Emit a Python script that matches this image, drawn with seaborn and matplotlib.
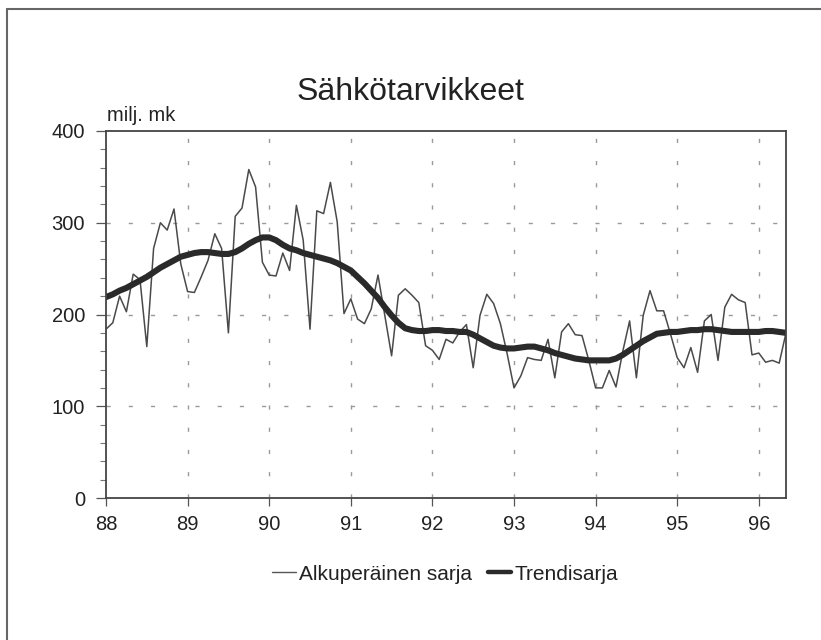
import numpy as np
import pandas as pd
import matplotlib
matplotlib.use("Agg")
import matplotlib.pyplot as plt
import seaborn as sns
from matplotlib.lines import Line2D
from matplotlib.ticker import MultipleLocator

# Data: monthly values Jan 1988 - May 1996 (milj. mk)
START_YEAR = 88
original_88 = [184, 191, 220, 203, 244, 238, 165, 272, 300, 292, 315, 255]
original_89 = [225, 224, 241, 259, 288, 272, 180, 307, 316, 358, 339, 257]
original_90 = [243, 242, 267, 248, 319, 281, 184, 313, 310, 344, 301, 201]
original_91 = [217, 195, 190, 206, 243, 199, 155, 221, 228, 221, 213, 166]
original_92 = [161, 151, 173, 169, 181, 189, 142, 199, 222, 212, 190, 157]
original_93 = [120, 133, 153, 151, 150, 173, 131, 181, 190, 178, 177, 150]
original_94 = [120, 120, 139, 121, 160, 193, 131, 199, 226, 204, 204, 179]
original_95 = [153, 142, 164, 137, 193, 200, 150, 208, 222, 216, 213, 156]
original_96 = [158, 148, 150, 147, 180]

trend_88 = [219, 222, 226, 229, 233, 237, 241, 246, 251, 255, 259, 263]
trend_89 = [265, 267, 268, 268, 267, 266, 266, 268, 272, 277, 281, 284]
trend_90 = [284, 281, 276, 272, 270, 267, 265, 263, 261, 259, 256, 252]
trend_91 = [248, 241, 234, 226, 218, 208, 199, 191, 185, 183, 182, 182]
trend_92 = [183, 183, 182, 182, 181, 181, 178, 174, 170, 166, 164, 163]
trend_93 = [163, 164, 165, 165, 163, 161, 158, 156, 154, 152, 151, 150]
trend_94 = [150, 150, 150, 152, 156, 161, 166, 171, 175, 179, 180, 181]
trend_95 = [181, 182, 183, 183, 184, 184, 183, 182, 181, 181, 181, 181]
trend_96 = [181, 182, 182, 181, 180]

original = (original_88 + original_89 + original_90 + original_91 + original_92
            + original_93 + original_94 + original_95 + original_96)
trend = (trend_88 + trend_89 + trend_90 + trend_91 + trend_92
         + trend_93 + trend_94 + trend_95 + trend_96)

TITLE = "Sähkötarvikkeet"
UNIT = "milj. mk"
LABEL_ORIG = "Alkuperäinen sarja"
LABEL_TREND = "Trendisarja"
year_ticks = list(range(88, 97))
y_ticks = [0, 100, 200, 300, 400]

time = START_YEAR + np.arange(len(original)) / 12.0
df = pd.DataFrame({"time": time, "original": original, "trend": trend})

sns.set_style("ticks")
plt.rcParams["font.family"] = ["Liberation Sans", "DejaVu Sans"]

fig = plt.figure(figsize=(8.21, 6.4), dpi=100)
ax = fig.add_axes([106 / 821, 1 - 498 / 640, 680 / 821, 367 / 640])

sns.lineplot(data=df, x="time", y="original", ax=ax, color="#4a4a4a", linewidth=1.1)
sns.lineplot(data=df, x="time", y="trend", ax=ax, color="#2a2a2a", linewidth=4.4)

ax.set_xlim(START_YEAR, time[-1])
ax.set_ylim(0, 400)
ax.set_xticks(year_ticks)
ax.set_xticklabels([str(y) for y in year_ticks])
ax.set_yticks(y_ticks)
ax.yaxis.set_minor_locator(MultipleLocator(20))
ax.set_xlabel("")
ax.set_ylabel("")

for side in ["left", "right", "top", "bottom"]:
    ax.spines[side].set_visible(True)
    ax.spines[side].set_color("#444444")
    ax.spines[side].set_linewidth(1.3)

ax.tick_params(axis="both", which="major", labelsize=14.5, colors="#555555",
               labelcolor="#222222", width=0.9, direction="out")
ax.tick_params(axis="y", which="major", length=7, pad=8)
ax.tick_params(axis="y", which="minor", length=4, width=0.8, colors="#777777")
ax.tick_params(axis="x", which="major", length=6, pad=6)

# dashed grid lines (skip the ones on the spines)
for yv in y_ticks[1:-1]:
    ax.axhline(yv, color="#9a9a9a", linewidth=1.0, dashes=(3, 13), zorder=0)
for xv in year_ticks[1:]:
    ax.axvline(xv, color="#9a9a9a", linewidth=1.0, dashes=(3, 13), zorder=0)

fig.text(410 / 821, 1 - 100 / 640, TITLE, fontsize=23, ha="center", va="baseline", color="#222222")
fig.text(107 / 821, 1 - 121 / 640, UNIT, fontsize=14.5, ha="left", va="baseline", color="#222222")

handles = [Line2D([0], [0], color="#555555", linewidth=1.0),
           Line2D([0], [0], color="#2a2a2a", linewidth=3.2)]
fig.legend(handles, [LABEL_ORIG, LABEL_TREND], loc="center", bbox_to_anchor=(445 / 821, 1 - 574 / 640),
           ncol=2, frameon=False, fontsize=15, handlelength=1.15, handletextpad=0.15,
           columnspacing=0.75, labelcolor="#222222")

# outer frame (top and left edges visible)
fig.add_artist(Line2D([7 / 821, 7 / 821], [0, 1 - 9 / 640], transform=fig.transFigure,
                      color="#666666", linewidth=1.5))
fig.add_artist(Line2D([7 / 821, 1], [1 - 9 / 640, 1 - 9 / 640], transform=fig.transFigure,
                      color="#666666", linewidth=1.5))

fig.savefig("out.png", dpi=100, facecolor="white")
